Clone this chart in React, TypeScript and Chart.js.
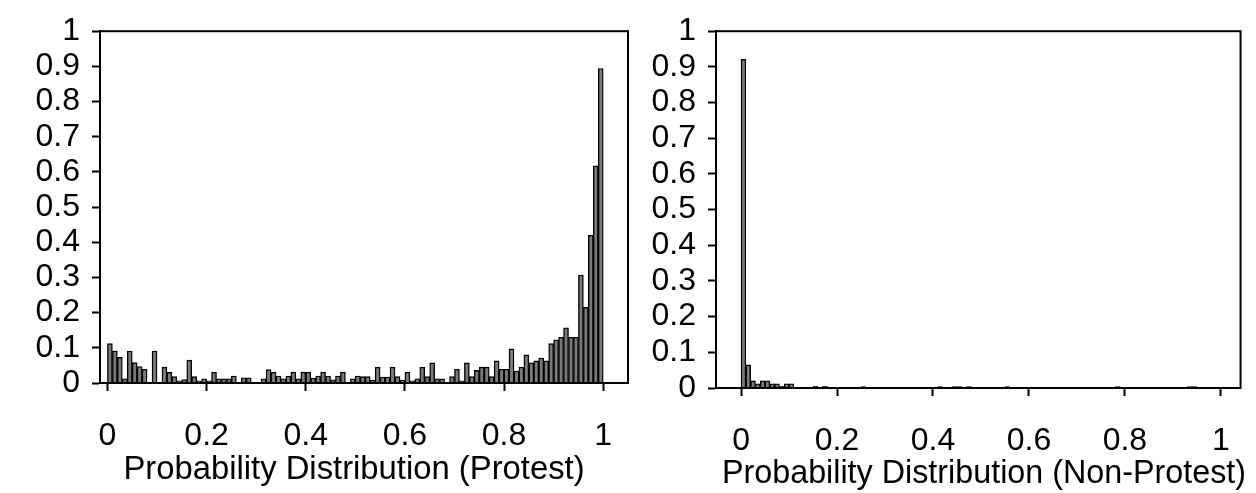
import React, { useEffect, useRef } from "react";
import { Chart, registerables } from "chart.js";

Chart.register(...registerables);

// Histogram bin heights (100 bins of width 0.01 over [0, 1])
const protestBins = [
  0.112, 0.091, 0.073, 0.012, 0.091, 0.058, 0.047, 0.039, 0.0, 0.091,
  0.0, 0.045, 0.030, 0.018, 0.006, 0.010, 0.065, 0.018, 0.006, 0.012,
  0.006, 0.031, 0.012, 0.012, 0.012, 0.020, 0.0, 0.015, 0.015, 0.0,
  0.0, 0.012, 0.038, 0.031, 0.020, 0.012, 0.020, 0.031, 0.012, 0.031,
  0.031, 0.014, 0.020, 0.031, 0.020, 0.009, 0.020, 0.031, 0.0, 0.012,
  0.020, 0.018, 0.018, 0.008, 0.045, 0.017, 0.017, 0.045, 0.018, 0.008,
  0.031, 0.006, 0.012, 0.045, 0.018, 0.057, 0.012, 0.012, 0.0, 0.018,
  0.039, 0.006, 0.057, 0.018, 0.036, 0.045, 0.045, 0.018, 0.063, 0.039,
  0.039, 0.097, 0.034, 0.045, 0.080, 0.057, 0.063, 0.071, 0.063, 0.112,
  0.123, 0.130, 0.157, 0.130, 0.130, 0.307, 0.215, 0.420, 0.617, 0.894,
];

const nonProtestBins = [
  0.921, 0.065, 0.020, 0.012, 0.020, 0.020, 0.012, 0.012, 0.005, 0.012,
  0.012, 0.002, 0.002, 0.002, 0.002, 0.005, 0.002, 0.005, 0.0, 0.0,
  0.0, 0.0, 0.0, 0.0, 0.0, 0.004, 0.0, 0.0, 0.0, 0.0,
  0.0, 0.0, 0.0, 0.0, 0.0, 0.0, 0.0, 0.0, 0.0, 0.0,
  0.0, 0.004, 0.0, 0.0, 0.004, 0.004, 0.0, 0.004, 0.0, 0.0,
  0.0, 0.0, 0.0, 0.0, 0.0, 0.004, 0.0, 0.0, 0.0, 0.0,
  0.0, 0.0, 0.0, 0.0, 0.0, 0.0, 0.0, 0.0, 0.0, 0.0,
  0.0, 0.0, 0.0, 0.0, 0.0, 0.0, 0.0, 0.0, 0.004, 0.0,
  0.0, 0.0, 0.0, 0.0, 0.0, 0.0, 0.0, 0.0, 0.0, 0.0,
  0.0, 0.0, 0.0, 0.004, 0.004, 0.0, 0.0, 0.0, 0.0, 0.0,
];

const binWidth = 0.01;
const xTickValues = [0, 0.2, 0.4, 0.6, 0.8, 1];
const xTickLabels = ["0", "0.2", "0.4", "0.6", "0.8", "1"];
const yTickValues = [0, 0.1, 0.2, 0.3, 0.4, 0.5, 0.6, 0.7, 0.8, 0.9, 1];
const yTickLabels = ["0", "0.1", "0.2", "0.3", "0.4", "0.5", "0.6", "0.7", "0.8", "0.9", "1"];

const titleProtest = "Probability Distribution (Protest)";
const titleNonProtest = "Probability Distribution (Non-Protest)";

const FONT = "'Liberation Sans', Arial, Helvetica, sans-serif";

const framePlugin = {
  id: "frame",
  afterDraw(chart: any) {
    const { ctx, chartArea } = chart;
    ctx.save();
    ctx.strokeStyle = "#000";
    ctx.lineWidth = 2;
    ctx.strokeRect(chartArea.left, chartArea.top, chartArea.right - chartArea.left, chartArea.bottom - chartArea.top);
    const t = chart.options.plugins.axisTitle;
    if (t && t.text) {
      ctx.fillStyle = "#000";
      ctx.font = `${t.size}px ${FONT}`;
      ctx.textAlign = "center";
      ctx.textBaseline = "middle";
      ctx.fillText(t.text, t.x, t.y);
    }
    ctx.restore();
  },
};

type Spec = {
  bins: number[];
  title: string;
  titleX: number;
  titleY: number;
  titleSize: number;
  width: number;
  height: number;
  padTop: number;
  padRight: number;
  yWidth: number;
  xHeight: number;
  xMin: number;
  xMax: number;
};

function Histogram({ spec }: { spec: Spec }) {
  const ref = useRef<HTMLCanvasElement | null>(null);
  useEffect(() => {
    if (!ref.current) return;
    const data = spec.bins.map((v, i) => ({ x: (i + 0.5) * binWidth, y: v }));
    const chart = new Chart(ref.current, {
      type: "bar",
      data: {
        datasets: [
          {
            data: data as any,
            backgroundColor: "#7a7a7a",
            borderColor: "#000",
            borderWidth: 1.4,
            barPercentage: 1,
            categoryPercentage: 1,
          },
        ],
      },
      options: {
        animation: false,
        responsive: false,
        devicePixelRatio: 1,
        layout: { padding: { top: spec.padTop, right: spec.padRight, left: 0, bottom: 0 } },
        plugins: {
          legend: { display: false },
          tooltip: { enabled: false },
          axisTitle: { text: spec.title, x: spec.titleX, y: spec.titleY, size: spec.titleSize },
        } as any,
        scales: {
          x: {
            type: "linear",
            offset: false,
            min: spec.xMin,
            max: spec.xMax,
            afterBuildTicks: (scale: any) => {
              scale.ticks = xTickValues.map((v) => ({ value: v }));
            },
            afterFit: (scale: any) => {
              scale.height = spec.xHeight;
            },
            ticks: {
              autoSkip: false,
              maxRotation: 0,
              padding: 26,
              color: "#000",
              font: { family: FONT, size: 32 },
              callback: (_v: any, i: number) => xTickLabels[i],
            },
            grid: { offset: false, drawOnChartArea: false, drawTicks: true, tickLength: 8, tickWidth: 2, tickColor: "#000" },
            border: { display: true, color: "#000", width: 2 },
          },
          y: {
            type: "linear",
            min: 0,
            max: 1,
            afterBuildTicks: (scale: any) => {
              scale.ticks = yTickValues.map((v) => ({ value: v }));
            },
            afterFit: (scale: any) => {
              scale.width = spec.yWidth;
            },
            ticks: {
              autoSkip: false,
              padding: 12,
              color: "#000",
              font: { family: FONT, size: 32 },
              callback: (_v: any, i: number) => yTickLabels[i],
            },
            grid: { drawOnChartArea: false, drawTicks: true, tickLength: 8, tickWidth: 2, tickColor: "#000" },
            border: { display: true, color: "#000", width: 2 },
          },
        },
      },
      plugins: [framePlugin],
    });
    return () => chart.destroy();
  }, [spec]);
  return (
    <canvas
      ref={ref}
      width={spec.width}
      height={spec.height}
      style={{ width: spec.width, height: spec.height, display: "block" }}
    />
  );
}

const leftSpec: Spec = {
  bins: protestBins,
  title: titleProtest,
  titleX: 354,
  titleY: 470,
  titleSize: 32.8,
  width: 640,
  height: 493,
  padTop: 20,
  padRight: 12,
  yWidth: 100,
  xHeight: 110,
  xMin: -0.015,
  xMax: 1.05,
};

const rightSpec: Spec = {
  bins: nonProtestBins,
  title: titleNonProtest,
  titleX: 344,
  titleY: 474,
  titleSize: 32.3,
  width: 616,
  height: 493,
  padTop: 28,
  padRight: 6,
  yWidth: 76,
  xHeight: 105,
  xMin: -0.0522,
  xMax: 1.041,
};

export default function App() {
  return (
    <div style={{ position: "fixed", left: 0, top: 0, width: 1256, height: 493, background: "#fff" }}>
      <div style={{ position: "absolute", left: 0, top: 0 }}>
        <Histogram spec={leftSpec} />
      </div>
      <div style={{ position: "absolute", left: 640, top: 0 }}>
        <Histogram spec={rightSpec} />
      </div>
    </div>
  );
}
